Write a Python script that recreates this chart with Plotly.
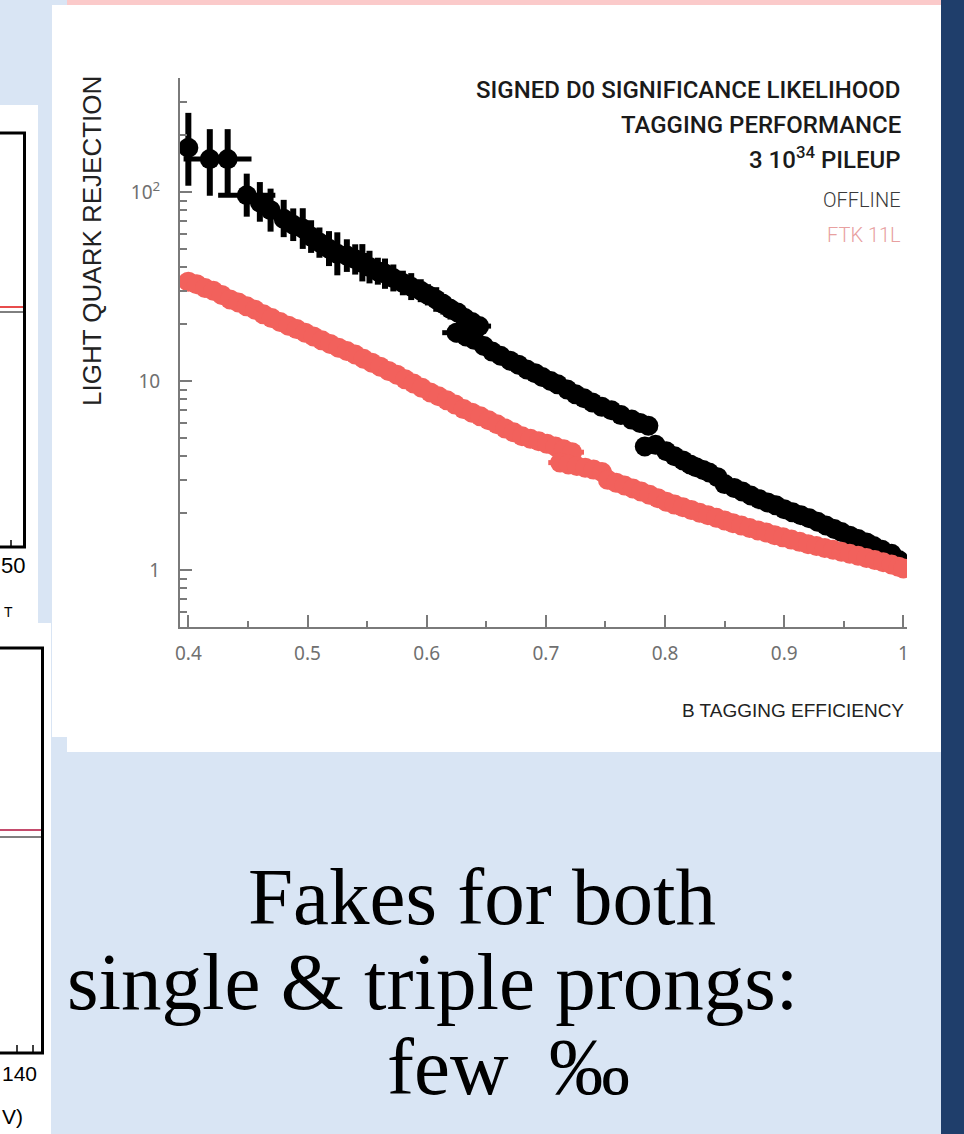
import plotly.graph_objects as go

# ---------------- data ----------------
# OFFLINE (black)
offline_eff = [0.400, 0.418, 0.433, 0.449, 0.460, 0.469, 0.480, 0.488, 0.496, 0.503,
               0.510, 0.518, 0.525, 0.533, 0.540, 0.546, 0.552, 0.559, 0.565, 0.572,
               0.580, 0.587, 0.595, 0.601, 0.608, 0.614, 0.620, 0.626, 0.632, 0.638,
               0.644,
               0.625, 0.633, 0.640, 0.648, 0.655, 0.662, 0.670, 0.677, 0.684, 0.691,
               0.697, 0.704, 0.710, 0.718, 0.725, 0.732, 0.739, 0.747, 0.755, 0.763,
               0.772, 0.779, 0.786,
               0.783, 0.792, 0.801, 0.808, 0.815, 0.821, 0.826, 0.832, 0.837, 0.844,
               0.850, 0.858, 0.865, 0.872, 0.879, 0.886, 0.893, 0.900, 0.907, 0.914,
               0.921, 0.928, 0.935, 0.942, 0.948, 0.955, 0.962, 0.969, 0.975, 0.982,
               0.990, 0.996, 1.000]
offline_rej = [171, 149, 149, 96, 88, 80, 72, 67, 64, 58,
               54, 50, 47, 46, 44, 42, 40, 38, 37, 35,
               33, 31.5, 30, 28.5, 27, 25.5, 24, 23, 21.5, 20.5,
               19.5,
               18, 17.2, 16.5, 15.3, 14.3, 13.6, 12.8, 12.2, 11.5, 11.0,
               10.5, 10.0, 9.6, 9.0, 8.5, 8.1, 7.7, 7.3, 7.0, 6.6,
               6.25, 6.0, 5.8,
               4.5, 4.6, 4.25, 4.0, 3.8, 3.62, 3.5, 3.38, 3.28, 3.1,
               2.85, 2.72, 2.6, 2.48, 2.37, 2.28, 2.2, 2.1, 2.02, 1.95,
               1.88, 1.8, 1.72, 1.65, 1.59, 1.52, 1.46, 1.4, 1.34, 1.28,
               1.22, 1.13, 1.05]
offline_err_up = [0.53, 0.44, 0.44, 0.30, 0.28, 0.30, 0.26, 0.22, 0.28, 0.22,
                  0.20, 0.24, 0.30, 0.22, 0.20, 0.26, 0.22, 0.18, 0.20, 0.18,
                  0.16, 0.18, 0.15, 0.14, 0.16, 0.13, 0.13, 0.12, 0.12, 0.11,
                  0.10,
                  0.12, 0.11, 0.10, 0.10, 0.09, 0.09, 0.08, 0.08, 0.08, 0.08,
                  0.07, 0.07, 0.07, 0.07, 0.07, 0.06, 0.06, 0.06, 0.06, 0.06,
                  0.06, 0.06, 0.06,
                  0.06, 0.06, 0.06, 0.06, 0.05, 0.05, 0.05, 0.05, 0.05, 0.05,
                  0.05, 0.05, 0.05, 0.05, 0.04, 0.04, 0.04, 0.04, 0.04, 0.04,
                  0.04, 0.04, 0.04, 0.04, 0.04, 0.03, 0.03, 0.03, 0.03, 0.03,
                  0.03, 0.03, 0.03]
offline_err_dn = [0.37, 0.36, 0.36, 0.23, 0.21, 0.23, 0.20, 0.18, 0.22, 0.18,
                  0.17, 0.19, 0.23, 0.18, 0.17, 0.20, 0.18, 0.15, 0.17, 0.15,
                  0.14, 0.15, 0.13, 0.12, 0.14, 0.12, 0.12, 0.11, 0.11, 0.10,
                  0.09,
                  0.11, 0.10, 0.09, 0.09, 0.08, 0.08, 0.07, 0.07, 0.07, 0.07,
                  0.07, 0.06, 0.06, 0.06, 0.06, 0.06, 0.06, 0.05, 0.05, 0.05,
                  0.05, 0.05, 0.05,
                  0.05, 0.05, 0.05, 0.05, 0.05, 0.05, 0.05, 0.05, 0.05, 0.05,
                  0.04, 0.04, 0.04, 0.04, 0.04, 0.04, 0.04, 0.04, 0.04, 0.04,
                  0.04, 0.04, 0.03, 0.03, 0.03, 0.03, 0.03, 0.03, 0.03, 0.03,
                  0.03, 0.03, 0.03]
offline_xerr = [0.004, 0.022, 0.020, 0.024, 0.006, 0.006, 0.006, 0.006, 0.006, 0.006,
                0.006, 0.006, 0.010, 0.018, 0.006, 0.006, 0.006, 0.006, 0.012, 0.006,
                0.006, 0.006, 0.006, 0.006, 0.006, 0.006, 0.006, 0.006, 0.006, 0.006,
                0.010,
                0.012, 0.006, 0.006, 0.006, 0.006, 0.006, 0.006, 0.006, 0.006, 0.006,
                0.006, 0.006, 0.006, 0.006, 0.006, 0.006, 0.006, 0.006, 0.006, 0.006,
                0.006, 0.006, 0.008,
                0.006, 0.006, 0.006, 0.006, 0.006, 0.006, 0.006, 0.006, 0.006, 0.006,
                0.006, 0.006, 0.006, 0.006, 0.006, 0.006, 0.006, 0.006, 0.006, 0.006,
                0.006, 0.006, 0.006, 0.006, 0.006, 0.006, 0.006, 0.006, 0.006, 0.006,
                0.006, 0.004, 0.003]

# FTK 11L (red)
ftk_eff = [0.400, 0.407, 0.414, 0.421, 0.428, 0.435, 0.442, 0.449, 0.456, 0.463,
           0.470, 0.477, 0.484, 0.491, 0.498, 0.505, 0.512, 0.519, 0.526, 0.533,
           0.540, 0.547, 0.554, 0.561, 0.568, 0.575, 0.582, 0.589, 0.596, 0.603,
           0.610, 0.617, 0.624, 0.631, 0.638, 0.645, 0.652, 0.659, 0.666, 0.673,
           0.680, 0.687, 0.694, 0.701, 0.708, 0.715, 0.722,
           0.712, 0.719, 0.726, 0.733, 0.740, 0.747,
           0.752, 0.759, 0.766, 0.773, 0.780, 0.787, 0.794, 0.801, 0.808, 0.815,
           0.822, 0.829, 0.836, 0.843, 0.850, 0.857, 0.864, 0.871, 0.878, 0.885,
           0.892, 0.899, 0.906, 0.913, 0.920, 0.927, 0.934, 0.941, 0.948, 0.955,
           0.962, 0.969, 0.976, 0.983, 0.990, 0.996, 1.000]
ftk_rej = [33.5, 32.5, 31, 30, 28.5, 27, 26, 24.8, 23.8, 22.5,
           21.5, 20.5, 19.6, 18.8, 18.0, 17.2, 16.4, 15.7, 15.0, 14.4,
           13.8, 13.1, 12.5, 11.9, 11.3, 10.8, 10.2, 9.7, 9.2, 8.7,
           8.3, 7.9, 7.5, 7.1, 6.8, 6.5, 6.2, 5.9, 5.6, 5.35,
           5.1, 4.95, 4.8, 4.65, 4.5, 4.35, 4.2,
           3.7, 3.62, 3.55, 3.48, 3.4, 3.3,
           3.0, 2.9, 2.8, 2.7, 2.6, 2.5, 2.4, 2.3, 2.22, 2.15,
           2.08, 2.01, 1.95, 1.89, 1.83, 1.77, 1.72, 1.67, 1.62, 1.58,
           1.53, 1.49, 1.45, 1.41, 1.37, 1.34, 1.31, 1.28, 1.25, 1.22,
           1.19, 1.16, 1.13, 1.10, 1.07, 1.04, 1.02]
ftk_err = [0.08, 0.09, 0.08, 0.08, 0.08, 0.07, 0.07, 0.07, 0.07, 0.07,
           0.06, 0.07, 0.06, 0.06, 0.06, 0.06, 0.06, 0.05, 0.05, 0.05,
           0.05, 0.05, 0.05, 0.05, 0.05, 0.05, 0.04, 0.04, 0.04, 0.04,
           0.04, 0.04, 0.04, 0.04, 0.04, 0.04, 0.04, 0.03, 0.03, 0.03,
           0.03, 0.03, 0.03, 0.03, 0.03, 0.03, 0.03,
           0.02, 0.02, 0.02, 0.02, 0.02, 0.02,
           0.02, 0.02, 0.02, 0.02, 0.02, 0.02, 0.02, 0.02, 0.02, 0.02,
           0.02, 0.02, 0.02, 0.02, 0.02, 0.02, 0.02, 0.02, 0.02, 0.02,
           0.02, 0.02, 0.02, 0.02, 0.02, 0.02, 0.02, 0.02, 0.02, 0.02,
           0.02, 0.02, 0.02, 0.02, 0.02, 0.02, 0.02]
ftk_xerr = [0.006, 0.006, 0.006, 0.006, 0.006, 0.006, 0.012, 0.006, 0.006, 0.006,
            0.006, 0.006, 0.006, 0.006, 0.006, 0.006, 0.006, 0.006, 0.006, 0.006,
            0.006, 0.006, 0.006, 0.006, 0.006, 0.006, 0.006, 0.006, 0.006, 0.006,
            0.006, 0.006, 0.006, 0.006, 0.006, 0.006, 0.006, 0.006, 0.006, 0.006,
            0.006, 0.006, 0.006, 0.006, 0.006, 0.006, 0.010,
            0.010, 0.006, 0.006, 0.006, 0.006, 0.008,
            0.006, 0.006, 0.006, 0.006, 0.006, 0.006, 0.006, 0.006, 0.006, 0.006,
            0.006, 0.006, 0.006, 0.006, 0.006, 0.006, 0.006, 0.006, 0.006, 0.006,
            0.006, 0.006, 0.006, 0.006, 0.006, 0.006, 0.006, 0.006, 0.006, 0.006,
            0.006, 0.006, 0.006, 0.006, 0.006, 0.004, 0.003]

x_ticks = [0.4, 0.5, 0.6, 0.7, 0.8, 0.9, 1.0]
x_tick_text = ["0.4", "0.5", "0.6", "0.7", "0.8", "0.9", "1"]
x_minor = [0.45, 0.55, 0.65, 0.75, 0.85, 0.95]
y_ticks = [1, 10, 100]
y_tick_text = ["1", "10", "10<sup>2</sup>"]
y_minor = [0.5, 0.6, 0.7, 0.8, 0.9, 2, 3, 4, 5, 6, 7, 8, 9,
           20, 30, 40, 50, 60, 70, 80, 90, 200, 300, 400]

# ---------------- layout helpers ----------------
W, H = 964, 1134
L, R, T, B = 180, 57, 78, 507
PW, PH = W - L - R, H - T - B
LIGHT = "#d9e5f4"
RED = "#f2615c"


def px(x):
    return (x - L) / PW


def py(y):
    return (H - B - y) / PH


def rect(x0, y0, x1, y1, color):
    return dict(type="rect", xref="paper", yref="paper", layer="below",
                x0=px(x0), x1=px(x1), y0=py(y1), y1=py(y0),
                fillcolor=color, line=dict(width=0))


def line(x0, y0, x1, y1, color, width):
    return dict(type="line", xref="paper", yref="paper", layer="below",
                x0=px(x0), x1=px(x1), y0=py(y0), y1=py(y1),
                line=dict(color=color, width=width))


def text(x, y, s, size, color="#000", family="Liberation Sans", xanchor="center",
         weight=None, angle=0):
    f = dict(size=size, color=color, family=family)
    if weight:
        f["weight"] = weight
    return dict(x=px(x), y=py(y), xref="paper", yref="paper", text=s, showarrow=False,
                xanchor=xanchor, yanchor="middle", font=f, textangle=angle)


fig = go.Figure()

fig.add_trace(go.Scatter(
    x=offline_eff, y=offline_rej, mode="markers", name="OFFLINE",
    marker=dict(color="black", size=20),
    error_y=dict(type="data", symmetric=False,
                 array=[v * e for v, e in zip(offline_rej, offline_err_up)],
                 arrayminus=[v * e for v, e in zip(offline_rej, offline_err_dn)],
                 color="black", thickness=6, width=0),
    error_x=dict(type="data", array=offline_xerr, color="black", thickness=5, width=0),
))
fig.add_trace(go.Scatter(
    x=ftk_eff, y=ftk_rej, mode="markers", name="FTK 11L",
    marker=dict(color=RED, size=20),
    error_y=dict(type="data", array=[v * e for v, e in zip(ftk_rej, ftk_err)],
                 color=RED, thickness=8, width=0),
    error_x=dict(type="data", array=ftk_xerr, color=RED, thickness=5, width=0),
))

shapes = [
    # slide background pieces
    rect(67, 0, 941, 5, "#fbcaca"),
    rect(52, 5, 941, 737, "white"),
    rect(67, 737, 941, 752, "white"),
    rect(941, 0, 964, 1134, "#1f3e6b"),
    rect(0, 105, 38, 623, "white"),
    rect(0, 623, 51, 1134, "white"),
    # partial plot at upper left
    line(-5, 133, 26, 133, "black", 3),
    line(24.5, 133, 24.5, 548, "black", 3),
    line(-5, 547, 26, 547, "black", 3),
    line(11, 547, 11, 540, "black", 1.5),
    line(0, 307, 23, 307, "#e01010", 1.5),
    line(0, 312, 23, 312, "black", 1),
    # partial plot at lower left
    line(-5, 648, 44, 648, "black", 3),
    line(42.5, 648, 42.5, 1054, "black", 3),
    line(-5, 1053, 44, 1053, "black", 3),
    line(17, 1053, 17, 1045, "black", 1.5),
    line(33, 1053, 33, 1045, "black", 1.5),
    line(0, 830, 41, 830, "#b0103c", 1.5),
    line(0, 837, 41, 837, "black", 1),
]

annotations = [
    text(903, 90, "SIGNED D0 SIGNIFICANCE LIKELIHOOD", 24, "#1a1a1a", "Roboto", "right", 500),
    text(903, 125, "TAGGING PERFORMANCE", 24, "#1a1a1a", "Roboto", "right", 500),
    text(903, 158, "3 10<sup>34</sup> PILEUP", 24, "#1a1a1a", "Roboto", "right", 500),
    text(903, 200, "OFFLINE", 20, "#3a3a3a", "Roboto", "right", 300),
    text(903, 235, "FTK 11L", 20, "#e8a0a0", "Roboto", "right", 300),
    text(92, 241, "LIGHT QUARK REJECTION", 26, "#222", "Liberation Sans", "center", None, -90),
    text(906, 710, "B TAGGING EFFICIENCY", 19, "#222", "Liberation Sans", "right"),
    text(482, 897, "Fakes for both", 81, "#000", "Liberation Serif"),
    text(65, 982, "single &amp; triple prongs:", 81, "#000", "Liberation Serif", "left"),
    text(385, 1067, "few\u00a0\u00a0‰", 81, "#000", "Liberation Serif", "left"),
    # visible parts of the labels of the neighbouring plots
    text(-1, 565, "50", 22, "#000", "Liberation Sans", "left"),
    text(2, 612, "T", 14, "#000", "Liberation Sans", "left"),
    text(0, 1073, "140", 21, "#000", "Liberation Sans", "left"),
    text(0, 1116, "V)", 21, "#000", "Liberation Sans", "left"),
]

axis_gray = "#7a7a7a"
tick_font = dict(family="Noto Sans", size=19, color="#707070")

fig.update_layout(
    width=W, height=H,
    margin=dict(l=L, r=R, t=T, b=B, pad=0),
    paper_bgcolor=LIGHT, plot_bgcolor="rgba(0,0,0,0)",
    showlegend=False,
    shapes=shapes, annotations=annotations,
    xaxis=dict(range=[0.393, 1.003], showgrid=False, zeroline=False,
               showline=True, linecolor=axis_gray, linewidth=2,
               ticks="inside", ticklen=12, tickwidth=2, tickcolor=axis_gray,
               tickmode="array", tickvals=x_ticks, ticktext=x_tick_text,
               tickfont=tick_font, ticklabelstandoff=8,
               minor=dict(tickvals=x_minor, ticks="inside", ticklen=6, tickwidth=2,
                          tickcolor=axis_gray)),
    yaxis=dict(type="log", range=[-0.301, 2.602], showgrid=False, zeroline=False,
               showline=True, linecolor=axis_gray, linewidth=2,
               ticks="inside", ticklen=12, tickwidth=2, tickcolor=axis_gray,
               tickmode="array", tickvals=y_ticks, ticktext=y_tick_text,
               tickfont=tick_font, ticklabelstandoff=14,
               minor=dict(tickvals=y_minor, ticks="inside", ticklen=7, tickwidth=2,
                          tickcolor=axis_gray)),
)

fig.write_html("out.html")
